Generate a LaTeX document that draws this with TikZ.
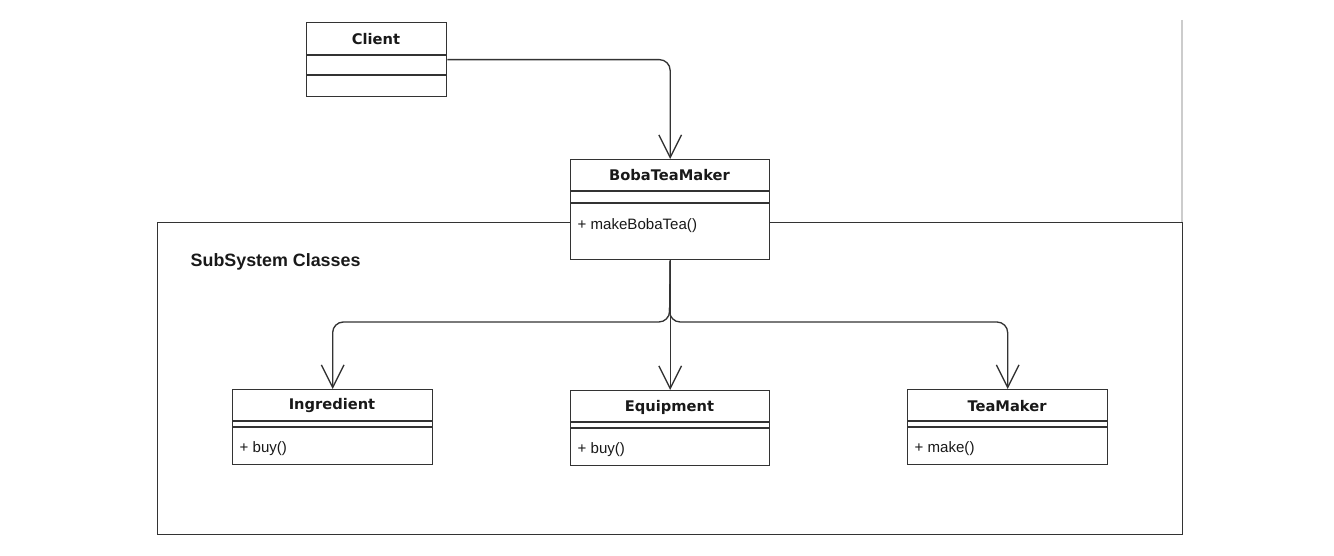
\documentclass[tikz,border=0pt]{standalone}
\usepackage{fontspec}
\setmainfont{Liberation Sans}
\newfontfamily\dvsans{DejaVu Sans}
\usetikzlibrary{arrows.meta}
\begin{document}
\begin{tikzpicture}[x=0.75pt,y=-0.75pt,
  line width=1pt,
  classbox/.style={draw=black!80, fill=white, anchor=north west, inner sep=0pt, minimum width=#1*0.75pt},
  classbox/.default=200,
  divider/.style={draw=black!80, line width=1pt},
  ctitle/.style={font=\dvsans\bfseries\fontsize{11}{12}\selectfont, text=black!90},
  cmeth/.style={font=\fontsize{11.3}{12}\selectfont, anchor=west, text=black!90, inner sep=0pt},
  assoc/.style={draw=black!80, line width=1pt, rounded corners=8pt, -{Straight Barb[length=17pt,width=17pt,line width=1pt]}},
  frame/.style={draw=black!80, line width=1pt}
]
\useasboundingbox (0,0) rectangle (1334,556);
% light guide line
\draw[black!20, line width=0.8pt] (1182,20) -- (1182,222);
% subsystem frame
\node[frame, anchor=north west, inner sep=0pt, minimum width=1025*0.75pt, minimum height=312*0.75pt] (frame) at (157,222) {};
\node[font=\bfseries\fontsize{13.4}{15}\selectfont, anchor=west, inner sep=0pt, text=black!90] (subl) at (190,262) {SubSystem Classes};

% Client
\node[classbox=140, minimum height=74*0.75pt] (client) at (306,22) {};
\node[ctitle] (clientT) at (376,39) {Client};
\draw[divider] (306,55) -- (446,55);
\draw[divider] (306,75) -- (446,75);

% BobaTeaMaker
\node[classbox=199, minimum height=100*0.75pt] (boba) at (570,159) {};
\node[ctitle] (bobaT) at (669.5,175) {BobaTeaMaker};
\draw[divider] (570,191) -- (769,191);
\draw[divider] (570,203) -- (769,203);
\node[cmeth] (bobaM) at (577,226) {+ makeBobaTea()};

% Ingredient
\node[classbox=200, minimum height=75*0.75pt] (ingr) at (232,389) {};
\node[ctitle] (ingrT) at (332,406) {Ingredient};
\draw[divider] (232,421) -- (432,421);
\draw[divider] (232,427) -- (432,427);
\node[cmeth] (ingrM) at (239,449) {+ buy()};

% Equipment
\node[classbox=199, minimum height=75*0.75pt] (equip) at (570,390) {};
\node[ctitle] (equipT) at (669.5,407) {Equipment};
\draw[divider] (570,422) -- (769,422);
\draw[divider] (570,428) -- (769,428);
\node[cmeth] (equipM) at (577,450) {+ buy()};

% TeaMaker
\node[classbox=200, minimum height=75*0.75pt] (tea) at (907,389) {};
\node[ctitle] (teaT) at (1007,406) {TeaMaker};
\draw[divider] (907,421) -- (1107,421);
\draw[divider] (907,427) -- (1107,427);
\node[cmeth] (teaM) at (914,449) {+ make()};

% connectors
\coordinate (split) at (669.5,322);
\draw[assoc] (client.east) -| (boba.north);
\draw[assoc] (boba.south) -- (split) -| (ingr.north);
\draw[assoc] (boba.south) -- (split) -| (tea.north);
\draw[assoc] (boba.south) -- (equip.north);
\end{tikzpicture}
\end{document}
